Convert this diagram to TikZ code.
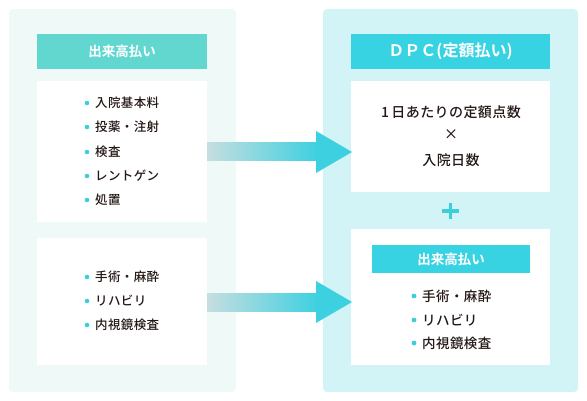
\documentclass[tikz,border=0pt]{standalone}
\usepackage{fontspec}
\newfontfamily\jp[LetterSpace=3]{Noto Sans CJK JP Medium}
\newfontfamily\jpb{Noto Sans CJK JP Bold}
\usetikzlibrary{calc}
\definecolor{lpanel}{HTML}{EEF9F8}
\definecolor{rpanel}{HTML}{D2F4F6}
\definecolor{lhead}{HTML}{62D7D0}
\definecolor{rhead}{HTML}{38D3E3}
\definecolor{bul}{HTML}{3BCFD9}
\definecolor{ink}{HTML}{231815}
\definecolor{shaftL}{HTML}{C6DEDF}
\definecolor{shaftR}{HTML}{3CD0E0}
\begin{document}
\begin{tikzpicture}[x=1pt,y=-1pt,
  panel/.style={rounded corners=4pt},
  box/.style={fill=white},
  headtxt/.style={text=white,font=\jpb\fontsize{13.5}{13.5}\selectfont},
  item/.style={anchor=west,inner sep=0pt,text=ink,font=\jp\fontsize{12.5}{12.5}\selectfont},
  ritem/.style={anchor=west,inner sep=0pt,text=ink,font=\jp\fontsize{13.5}{13.5}\selectfont},
  ctext/.style={inner sep=0pt,text=ink,font=\jp\fontsize{14}{14}\selectfont},
  dot/.style={fill=bul}]
\useasboundingbox (0,0) rectangle (587,401);
% panels
\fill[lpanel,panel] (9,9) rectangle (236,392);
\fill[rpanel,panel] (323,9) rectangle (578,392);
% left
\fill[lhead] (37,34) rectangle (207,69);
\node[headtxt] (lh) at (122,51.5) {出来高払い};
\fill[box] (37,81) rectangle (207,222);
\fill[box] (37,238) rectangle (207,365);
\coordinate (lb1) at (207,152);
\coordinate (lb2) at (207,302);
\foreach \t/\y [count=\i] in {入院基本料/103,投薬・注射/127,検査/152,レントゲン/176,処置/200}{
  \node[item] (a\i) at (95,\y) {\t};
  \fill[dot] ($(a\i.west)+(-8,0)$) circle (2.3);
}
\foreach \t/\y [count=\i] in {手術・麻酔/277,リハビリ/301,内視鏡検査/325}{
  \node[item] (b\i) at (95,\y) {\t};
  \fill[dot] ($(b\i.west)+(-8,0)$) circle (2.3);
}
% right
\fill[rhead] (351,34) rectangle (550,69);
\node[headtxt,font=\jpb\fontsize{16}{16}\selectfont] (rh) at (450.5,51.5) {ＤＰＣ(定額払い)};
\fill[box] (351,81) rectangle (550,192);
\node[ctext] (c1) at (451,112) {1\,日あたりの定額点数};
\node[ctext] (c2) at (451,135) {×};
\node[ctext] (c3) at (451,160) {入院日数};
\coordinate (rb1) at (352,152);
\draw[bul,line width=3.5pt] (442,211) -- (459,211) (450.5,203) -- (450.5,219);
\fill[box] (351,229) rectangle (550,365);
\fill[rhead] (372,245) rectangle (530,273);
\node[headtxt] (rh2) at (451,259) {出来高払い};
\coordinate (rb2) at (352,302);
\foreach \t/\y [count=\i] in {手術・麻酔/296,リハビリ/320,内視鏡検査/343}{
  \node[ritem] (r\i) at (422,\y) {\t};
  \fill[dot] ($(r\i.west)+(-8,0)$) circle (2.4);
}
% arrows
\foreach \s/\e in {lb1/rb1,lb2/rb2}{
  \shade[left color=shaftL,right color=shaftR] ($(\s)+(0,-9)$) rectangle ($(\e)+(-33,9)$);
  \fill[shaftR] ($(\e)+(-36,-21)$) -- (\e) -- ($(\e)+(-36,21)$) -- cycle;
}
\end{tikzpicture}
\end{document}
